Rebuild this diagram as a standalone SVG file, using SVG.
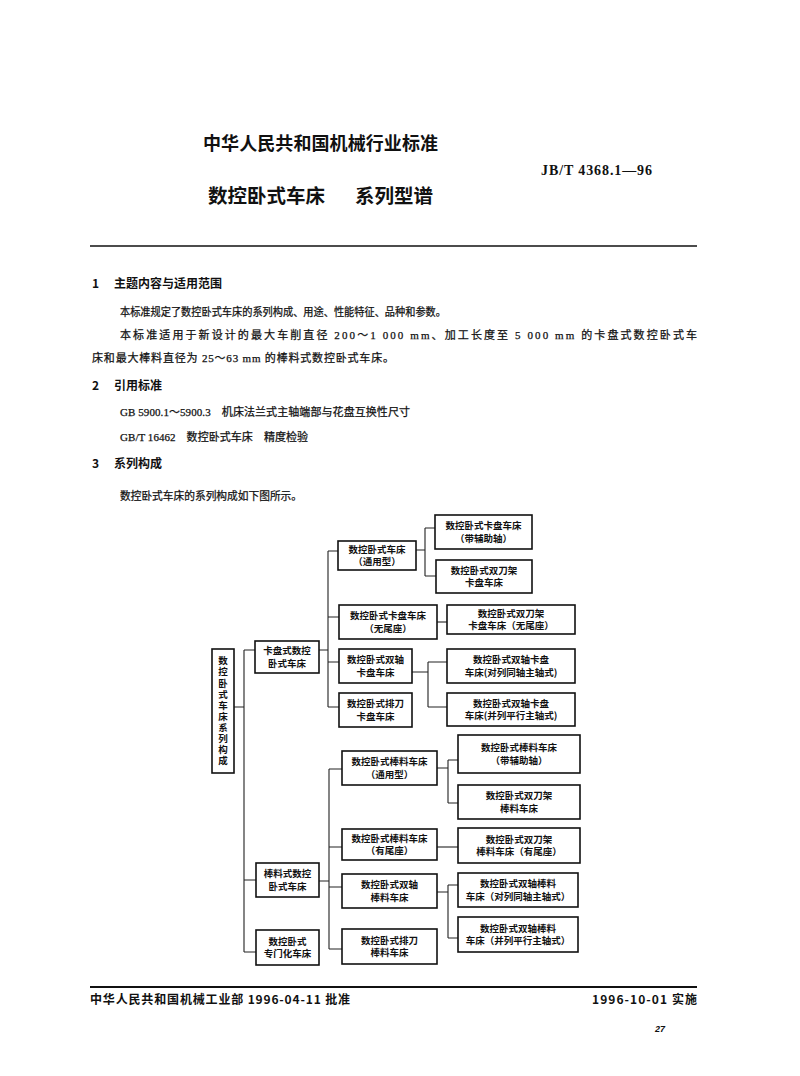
<svg xmlns="http://www.w3.org/2000/svg" width="800" height="1076" viewBox="0 0 800 1076">
<style>
.hd{font-family:"Noto Sans CJK SC",sans-serif;font-weight:700;fill:#111}
.bd{font-family:"Liberation Serif","Noto Sans CJK SC",serif;font-size:11px;fill:#111;stroke:#111;stroke-width:0.25}
.sec{font-family:"Noto Sans CJK SC",sans-serif;font-weight:700;font-size:12px;fill:#111}
.bx{fill:#fff;stroke:#111;stroke-width:1.6}
.t{font-family:"Noto Sans CJK SC",sans-serif;font-weight:700;font-size:9.5px;fill:#111;text-anchor:middle}
.cn{fill:none;stroke:#222;stroke-width:1.1}
</style>
<rect width="800" height="1076" fill="#fff"/>
<text class="hd" x="203" y="150" font-size="18" textLength="235">中华人民共和国机械行业标准</text>
<text x="541" y="175" font-family="Liberation Serif,serif" font-weight="700" font-size="14" textLength="111" lengthAdjust="spacing" fill="#111">JB/T 4368.1—96</text>
<text class="hd" y="203" font-size="19.5"><tspan x="208">数控卧式车床</tspan><tspan x="355">系列型谱</tspan></text>
<line x1="90" y1="246" x2="697" y2="246" stroke="#111" stroke-width="1.5"/>

<text class="sec" x="92" y="288">1<tspan x="114">主题内容与适用范围</tspan></text>
<text class="bd" x="120" y="316" textLength="326" lengthAdjust="spacingAndGlyphs">本标准规定了数控卧式车床的系列构成、用途、性能特征、品种和参数。</text>
<text class="bd" x="120" y="339" textLength="577" lengthAdjust="spacing">本标准适用于新设计的最大车削直径 200～1 000 mm、加工长度至 5 000 mm 的卡盘式数控卧式车</text>
<text class="bd" x="92" y="362" textLength="302" lengthAdjust="spacing">床和最大棒料直径为 25～63 mm 的棒料式数控卧式车床。</text>
<text class="sec" x="92" y="390">2<tspan x="114">引用标准</tspan></text>
<text class="bd" x="120" y="416" textLength="290" lengthAdjust="spacing">GB 5900.1～5900.3　机床法兰式主轴端部与花盘互换性尺寸</text>
<text class="bd" x="120" y="441" textLength="188" lengthAdjust="spacing">GB/T 16462　数控卧式车床　精度检验</text>
<text class="sec" x="92" y="468">3<tspan x="114">系列构成</tspan></text>
<text class="bd" x="120" y="500" textLength="182" lengthAdjust="spacingAndGlyphs">数控卧式车床的系列构成如下图所示。</text>

<g id="connectors">
<path class="cn" d="M234 707H244M244 650V952M244 650H255M244 880H256M244 952H256"/>
<path class="cn" d="M319 650H328M328 551V707M328 551H338M328 617H339M328 662H339M328 707H339"/>
<path class="cn" d="M416 550H425M425 528V576M425 528H435M425 576H436"/>
<path class="cn" d="M437 622H447"/>
<path class="cn" d="M412 672H428M428 662V707M428 662H447M428 707H447"/>
<path class="cn" d="M319 881H329M329 769V949M329 769H342M329 847H342M329 887H342M329 949H342"/>
<path class="cn" d="M437 768H448M448 760V803M448 760H458M448 803H458"/>
<path class="cn" d="M437 847H458"/>
<path class="cn" d="M437 892H448M448 885V938M448 885H458M448 938H458"/>
</g>

<g id="root"><rect class="bx" x="212" y="649" width="22" height="124"/>
<text x="223" y="656" writing-mode="tb" letter-spacing="1.6" font-family="Noto Sans CJK SC,sans-serif" font-weight="700" font-size="9.5" fill="#111">数控卧式车床系列构成</text></g>

<g id="n-kapan"><rect class="bx" x="255" y="641" width="64" height="32"/><text class="t" x="287" y="654">卡盘式数控</text><text class="t" x="287" y="666.5">卧式车床</text></g>
<g id="n-bangliao"><rect class="bx" x="256" y="863" width="63" height="34"/><text class="t" x="287.5" y="877">棒料式数控</text><text class="t" x="287.5" y="889.5">卧式车床</text></g>
<g id="n-zhuanmen"><rect class="bx" x="256" y="930" width="63" height="35"/><text class="t" x="287.5" y="944.5">数控卧式</text><text class="t" x="287.5" y="957">专门化车床</text></g>

<g id="n-d"><rect class="bx" x="338" y="541" width="78" height="29"/><text class="t" x="377" y="552.5">数控卧式车床</text><text class="t" x="377" y="565">（通用型）</text></g>
<g id="n-e"><rect class="bx" x="339" y="605" width="98" height="34"/><text class="t" x="388" y="619">数控卧式卡盘车床</text><text class="t" x="388" y="631.5">（无尾座）</text></g>
<g id="n-f"><rect class="bx" x="339" y="649" width="73" height="34"/><text class="t" x="375.5" y="663">数控卧式双轴</text><text class="t" x="375.5" y="675.5">卡盘车床</text></g>
<g id="n-g"><rect class="bx" x="339" y="693" width="73" height="34"/><text class="t" x="375.5" y="707">数控卧式排刀</text><text class="t" x="375.5" y="719.5">卡盘车床</text></g>

<g id="n-h"><rect class="bx" x="435" y="515" width="97" height="34"/><text class="t" x="483.5" y="529">数控卧式卡盘车床</text><text class="t" x="483.5" y="541.5">（带辅助轴）</text></g>
<g id="n-i"><rect class="bx" x="436" y="560" width="96" height="33"/><text class="t" x="484" y="573.5">数控卧式双刀架</text><text class="t" x="484" y="586">卡盘车床</text></g>
<g id="n-j"><rect class="bx" x="447" y="605" width="128" height="29"/><text class="t" x="511" y="616.5">数控卧式双刀架</text><text class="t" x="511" y="629">卡盘车床（无尾座）</text></g>
<g id="n-k"><rect class="bx" x="447" y="649" width="128" height="34"/><text class="t" x="511" y="663">数控卧式双轴卡盘</text><text class="t" x="511" y="675.5">车床(对列同轴主轴式)</text></g>
<g id="n-l"><rect class="bx" x="447" y="693" width="128" height="33"/><text class="t" x="511" y="706.5">数控卧式双轴卡盘</text><text class="t" x="511" y="719">车床(并列平行主轴式)</text></g>

<g id="n-m"><rect class="bx" x="342" y="751" width="95" height="34"/><text class="t" x="389.5" y="765">数控卧式棒料车床</text><text class="t" x="389.5" y="777.5">（通用型）</text></g>
<g id="n-n"><rect class="bx" x="342" y="829" width="95" height="31"/><text class="t" x="389.5" y="841.5">数控卧式棒料车床</text><text class="t" x="389.5" y="854">（有尾座）</text></g>
<g id="n-o"><rect class="bx" x="342" y="874" width="95" height="34"/><text class="t" x="389.5" y="888">数控卧式双轴</text><text class="t" x="389.5" y="900.5">棒料车床</text></g>
<g id="n-p"><rect class="bx" x="342" y="929" width="95" height="35"/><text class="t" x="389.5" y="943.5">数控卧式排刀</text><text class="t" x="389.5" y="956">棒料车床</text></g>

<g id="n-q"><rect class="bx" x="458" y="735" width="122" height="38"/><text class="t" x="519" y="751">数控卧式棒料车床</text><text class="t" x="519" y="763.5">（带辅助轴）</text></g>
<g id="n-r"><rect class="bx" x="458" y="785" width="122" height="34"/><text class="t" x="519" y="799">数控卧式双刀架</text><text class="t" x="519" y="811.5">棒料车床</text></g>
<g id="n-s"><rect class="bx" x="458" y="828" width="122" height="35"/><text class="t" x="519" y="842.5">数控卧式双刀架</text><text class="t" x="519" y="855">棒料车床（有尾座）</text></g>
<g id="n-t"><rect class="bx" x="458" y="873" width="120" height="34"/><text class="t" x="518" y="887">数控卧式双轴棒料</text><text class="t" x="518" y="899.5">车床（对列同轴主轴式）</text></g>
<g id="n-u"><rect class="bx" x="458" y="917" width="120" height="35"/><text class="t" x="518" y="931.5">数控卧式双轴棒料</text><text class="t" x="518" y="944">车床（并列平行主轴式）</text></g>

<line x1="90" y1="987" x2="697" y2="987" stroke="#111" stroke-width="2"/>
<text class="sec" x="90" y="1004" textLength="260">中华人民共和国机械工业部 1996-04-11 批准</text>
<text class="sec" x="592" y="1004" font-size="13" textLength="105">1996-10-01 实施</text>
<text x="665" y="1032" font-family="Liberation Sans,sans-serif" font-style="italic" font-weight="700" font-size="9" text-anchor="end" fill="#111">27</text>
</svg>
